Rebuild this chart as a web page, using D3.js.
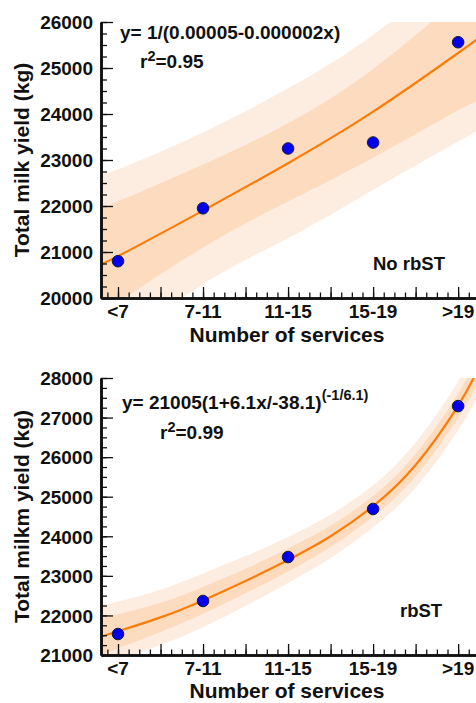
<!DOCTYPE html>
<html>
<head>
<meta charset="utf-8">
<script src="https://cdn.jsdelivr.net/npm/d3@7"></script>
<style>
  html, body { margin: 0; padding: 0; background: #fff; }
  svg { display: block; }
  text { font-family: "Liberation Sans", Arial, sans-serif; font-weight: bold; fill: #111; }
</style>
</head>
<body>
<svg id="chart" width="476" height="703"></svg>
<script>
// ---------- data ----------
const categories = ["<7", "7-11", "11-15", "15-19", ">19"];

// Panel A: No rbST
const yieldNoRbst = [20800, 21950, 23250, 23380, 25560];
const fitPosA = [-0.2, 0, 1, 2, 3, 4, 4.22];
const fitNoRbst = [20750, 20910, 21900, 22930, 24050, 25326, 25620];
const innerUpA = [21980, 22100, 22900, 23800, 24980, 26500, 26850];
const innerLoA = [19640, 19900, 21100, 22100, 23050, 24080, 24250];
const outerUpA = [22720, 22800, 23600, 24560, 25720, 27200, 27550];
const outerLoA = [18800, 19000, 20300, 21300, 22350, 23400, 23620];
const yTicksA = [20000, 21000, 22000, 23000, 24000, 25000, 26000];

// Panel B: rbST
const yieldRbst = [21530, 22365, 23475, 24690, 27290];
const fitPosB = [-0.2, 0, 0.5, 1, 1.5, 2, 2.5, 3, 3.5, 4, 4.25];
const fitRbst = [21460, 21600, 21950, 22380, 22870, 23400, 24000, 24760, 25800, 27300, 28300];
const innerUpB = [21930, 22030, 22320, 22720, 23180, 23690, 24270, 25020, 26080, 27610, 28640];
const innerLoB = [20990, 21170, 21580, 22040, 22560, 23110, 23730, 24500, 25520, 26990, 27960];
const outerUpB = [22260, 22350, 22650, 23060, 23500, 23980, 24550, 25290, 26370, 27920, 28980];
const outerLoB = [20660, 20850, 21250, 21700, 22240, 22820, 23450, 24230, 25230, 26680, 27620];
const yTicksB = [21000, 22000, 23000, 24000, 25000, 26000, 27000, 28000];

const svg = d3.select("#chart");

const panels = [
  {
    top: 22, bottom: 298, yDomain: [20000, 26000], yTicks: yTicksA,
    points: yieldNoRbst, fitPos: fitPosA, fit: fitNoRbst,
    innerUp: innerUpA, innerLo: innerLoA, outerUp: outerUpA, outerLo: outerLoA,
    yTitle: "Total milk yield (kg)",
    eq: [{t: "y= 1/(0.00005-0.000002x)"}], eqX: 120, eqY: 39,
    r2: "0.95", r2X: 140, r2Y: 68,
    label: "No rbST", labelX: 373, labelY: 270,
    catY: 318, xTitleY: 342, id: "a"
  },
  {
    top: 378, bottom: 655, yDomain: [21000, 28000], yTicks: yTicksB,
    points: yieldRbst, fitPos: fitPosB, fit: fitRbst,
    innerUp: innerUpB, innerLo: innerLoB, outerUp: outerUpB, outerLo: outerLoB,
    yTitle: "Total milkm yield (kg)",
    eq: [{t: "y= 21005(1+6.1x/-38.1)"}, {t: "(-1/6.1)", sup: true}], eqX: 122, eqY: 409,
    r2: "0.99", r2X: 160, r2Y: 439,
    label: "rbST", labelX: 400, labelY: 617,
    catY: 675, xTitleY: 698, id: "b"
  }
];

const left = 101, right = 476;
const x = d3.scaleLinear().domain([-0.2, 4.21]).range([left, right]);

panels.forEach(p => {
  const y = d3.scaleLinear().domain(p.yDomain).range([p.bottom, p.top]);
  const g = svg.append("g");

  g.append("clipPath").attr("id", "clip-" + p.id)
    .append("rect").attr("x", left).attr("y", p.top)
    .attr("width", right - left).attr("height", p.bottom - p.top);

  const plot = g.append("g").attr("clip-path", `url(#clip-${p.id})`);
  const idx = d3.range(p.fitPos.length);

  const area = (up, lo) => d3.area()
    .x(i => x(p.fitPos[i])).y0(i => y(lo[i])).y1(i => y(up[i]))
    .curve(d3.curveNatural)(idx);

  plot.append("path").attr("d", area(p.outerUp, p.outerLo)).attr("fill", "#fdede0");
  plot.append("path").attr("d", area(p.innerUp, p.innerLo)).attr("fill", "#fcdbbf");

  plot.append("path")
    .attr("d", d3.line().x(i => x(p.fitPos[i])).y(i => y(p.fit[i])).curve(d3.curveNatural)(idx))
    .attr("fill", "none").attr("stroke", "#fa7d0a").attr("stroke-width", 2.2);

  plot.selectAll("circle").data(p.points).join("circle")
    .attr("cx", (d, i) => x(i)).attr("cy", d => y(d)).attr("r", 5.8)
    .attr("fill", "#0000ee").attr("stroke", "#1a1a3a").attr("stroke-width", 1);

  // Y axis: minor + major inward ticks
  const minorY = d3.range(p.yDomain[0], p.yDomain[1] + 1, 250);
  const yMinor = g.append("g").attr("transform", `translate(${left},0)`)
    .call(d3.axisLeft(y).tickValues(minorY).tickSize(-6).tickSizeOuter(0).tickFormat(""));
  const yMajor = g.append("g").attr("transform", `translate(${left},0)`)
    .call(d3.axisLeft(y).tickValues(p.yTicks).tickSize(-12).tickSizeOuter(0).tickFormat(d3.format("d")));
  yMajor.selectAll(".tick text").attr("x", -8).attr("dy", "0.36em")
    .style("font-size", "19px").style("font-family", "'Liberation Sans', Arial, sans-serif").style("font-weight", "bold");

  // X axis
  const minorX = d3.range(-1, 34).map(k => k * 0.125).filter(v => v > -0.2 && v < 4.21);
  const majorX = d3.range(0, 9).map(k => k * 0.5);
  const xMinor = g.append("g").attr("transform", `translate(0,${p.bottom})`)
    .call(d3.axisBottom(x).tickValues(minorX).tickSize(-5.5).tickSizeOuter(0).tickFormat(""));
  const xMajor = g.append("g").attr("transform", `translate(0,${p.bottom})`)
    .call(d3.axisBottom(x).tickValues(majorX).tickSize(-11).tickSizeOuter(0).tickFormat(""));

  [yMinor, yMajor, xMinor, xMajor].forEach(a => {
    a.selectAll(".tick line").attr("stroke", "#111").attr("stroke-width", 1.3);
    a.select(".domain").attr("stroke", "#111").attr("stroke-width", 2.6);
  });

  g.selectAll(".cat").data(categories).join("text")
    .attr("x", (d, i) => x(i)).attr("y", p.catY)
    .attr("text-anchor", "middle").style("font-size", "19px").text(d => d);

  g.append("text").attr("x", 287).attr("y", p.xTitleY).attr("text-anchor", "middle")
    .style("font-size", "21px").text("Number of services");

  g.append("text")
    .attr("transform", `translate(29,${(p.top + p.bottom) / 2}) rotate(-90)`)
    .attr("text-anchor", "middle").style("font-size", "21px").text(p.yTitle);

  const eq = g.append("text").attr("x", p.eqX).attr("y", p.eqY).style("font-size", "19px");
  p.eq.forEach(s => {
    const t = eq.append("tspan").text(s.t);
    if (s.sup) t.attr("dy", "-9").style("font-size", "14.5px");
  });

  const r2 = g.append("text").attr("x", p.r2X).attr("y", p.r2Y).style("font-size", "19px");
  r2.append("tspan").text("r");
  r2.append("tspan").attr("dy", "-7").style("font-size", "14.5px").text("2");
  r2.append("tspan").attr("dy", "7").text("=" + p.r2);

  g.append("text").attr("x", p.labelX).attr("y", p.labelY).style("font-size", "18.5px").text(p.label);
});
</script>
</body>
</html>
